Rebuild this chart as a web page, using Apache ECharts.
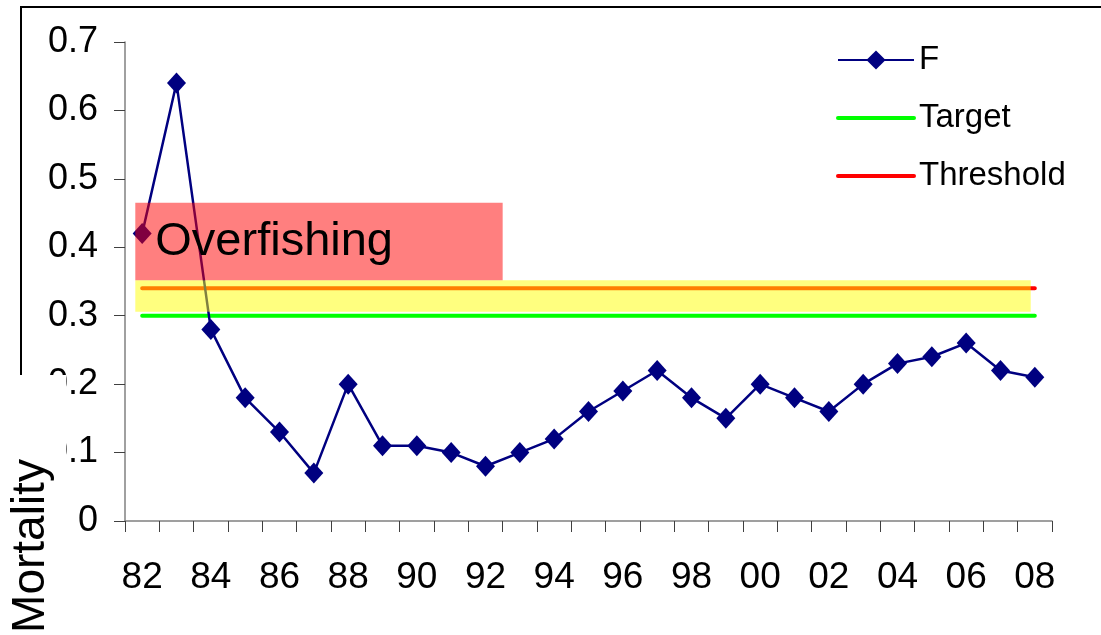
<!DOCTYPE html>
<html>
<head>
<meta charset="utf-8">
<title>Fishing mortality</title>
<script src="https://cdn.jsdelivr.net/npm/echarts@6/dist/echarts.min.js"></script>
<style>
  html, body { margin: 0; padding: 0; background: #fff; }
  #chart { width: 1101px; height: 635px; }
</style>
</head>
<body>
<div id="chart"></div>
<script>
// Years shown on the category axis (two-digit labels)
const years = ['82','83','84','85','86','87','88','89','90','91','92','93','94','95','96','97','98','99','00','01','02','03','04','05','06','07','08'];

// Fishing mortality F per year
const fValues = [0.42, 0.64, 0.28, 0.18, 0.13, 0.07, 0.20, 0.11, 0.11, 0.10, 0.08, 0.10, 0.12, 0.16, 0.19, 0.22, 0.18, 0.15, 0.20, 0.18, 0.16, 0.20, 0.23, 0.24, 0.26, 0.22, 0.21];

// Reference points
const targetF = 0.30;
const thresholdF = 0.34;

// Shaded zones, in year position (82 = 1982 centre) and F units: [x0, x1, y0, y1]
const overfishingZone = [81.8, 92.5, 0.352, 0.465];
const cautionZone = [81.8, 107.88, 0.3057, 0.352];

const FONT = '"Liberation Sans", Arial, Helvetica, sans-serif';

const chart = echarts.init(document.getElementById('chart'));

function zoneItem(fill, label) {
  return function (params, api) {
    const p0 = api.coord([api.value(0), api.value(3)]);
    const p1 = api.coord([api.value(1), api.value(2)]);
    const children = [{
      type: 'rect',
      shape: { x: p0[0], y: p0[1], width: p1[0] - p0[0], height: p1[1] - p0[1] },
      style: { fill: fill }
    }];
    if (label) {
      children.push({
        type: 'text',
        x: p0[0] + 20,
        y: (p0[1] + p1[1]) / 2 + 1,
        style: {
          text: label,
          fill: '#000',
          fontSize: 47,
          fontFamily: FONT,
          align: 'left',
          verticalAlign: 'middle'
        }
      });
    }
    return { type: 'group', children: children };
  };
}

// Plain line keys in the legend: no symbol, thick stroke
const plainKey = (name) => ({
  name: name,
  itemStyle: { color: 'rgba(0,0,0,0)', borderWidth: 0, opacity: 0 },
  lineStyle: { width: 4 }
});

chart.setOption({
  animation: false,
  backgroundColor: '#fff',
  grid: { left: 125, right: 49, top: 42, bottom: 114, containLabel: false },
  legend: {
    left: 836,
    top: 43,
    orient: 'vertical',
    selectedMode: false,
    padding: 0,
    itemWidth: 76,
    itemHeight: 24,
    itemGap: 24,
    textStyle: { fontSize: 33, fontFamily: FONT, color: '#000', lineHeight: 34, padding: [0, 0, 0, 0] },
    data: ['F', plainKey('Target'), plainKey('Threshold')]
  },
  xAxis: [{
    type: 'category',
    data: years,
    boundaryGap: true,
    axisLine: { lineStyle: { color: '#808080', width: 1.5 } },
    axisTick: { show: true, interval: 0, length: 11, lineStyle: { color: '#404040', width: 1 } },
    axisLabel: { interval: 1, margin: 38, fontSize: 37, fontFamily: FONT, color: '#000' },
    splitLine: { show: false }
  }, {
    type: 'value',
    min: 81.5,
    max: 108.5,
    show: false
  }],
  yAxis: {
    type: 'value',
    min: 0,
    max: 0.7,
    interval: 0.1,
    axisLine: { show: true, lineStyle: { color: '#808080', width: 1.5 } },
    axisTick: { show: true, length: 11, lineStyle: { color: '#404040', width: 1 } },
    axisLabel: { margin: 27, fontSize: 36, fontFamily: FONT, color: '#000' },
    splitLine: { show: false }
  },
  series: [{
    name: 'Target',
    type: 'line',
    data: years.map(() => targetF),
    symbol: 'none',
    lineStyle: { color: '#00ff00', width: 4, cap: 'round' },
    itemStyle: { color: '#00ff00' },
    z: 2
  }, {
    name: 'Threshold',
    type: 'line',
    data: years.map(() => thresholdF),
    symbol: 'none',
    lineStyle: { color: '#ff0000', width: 4, cap: 'round' },
    itemStyle: { color: '#ff0000' },
    z: 2
  }, {
    name: 'F',
    type: 'line',
    data: fValues,
    symbol: 'diamond',
    symbolSize: [19, 21],
    lineStyle: { color: '#000080', width: 2.5 },
    itemStyle: { color: '#000080' },
    z: 3
  }, {
    type: 'custom',
    xAxisIndex: 1,
    renderItem: zoneItem('rgba(255,255,0,0.5)', null),
    data: [cautionZone],
    silent: true,
    z: 4
  }, {
    type: 'custom',
    xAxisIndex: 1,
    renderItem: zoneItem('rgba(255,0,0,0.5)', 'Overfishing'),
    data: [overfishingZone],
    silent: true,
    z: 5
  }],
  graphic: [{
    type: 'polyline',
    shape: { points: [[21, 640], [21, 7], [1110, 7]] },
    style: { stroke: '#000', lineWidth: 2, fill: null },
    z: 50
  }, {
    type: 'rect',
    shape: { x: 0, y: 375, width: 66, height: 260 },
    style: { fill: '#fff' },
    z: 60
  }, {
    type: 'text',
    x: 31,
    y: 546,
    rotation: Math.PI / 2,
    style: {
      text: 'Mortality',
      fontSize: 46,
      fontFamily: FONT,
      fill: '#000',
      align: 'center',
      verticalAlign: 'middle'
    },
    z: 61
  }]
});
</script>
</body>
</html>
